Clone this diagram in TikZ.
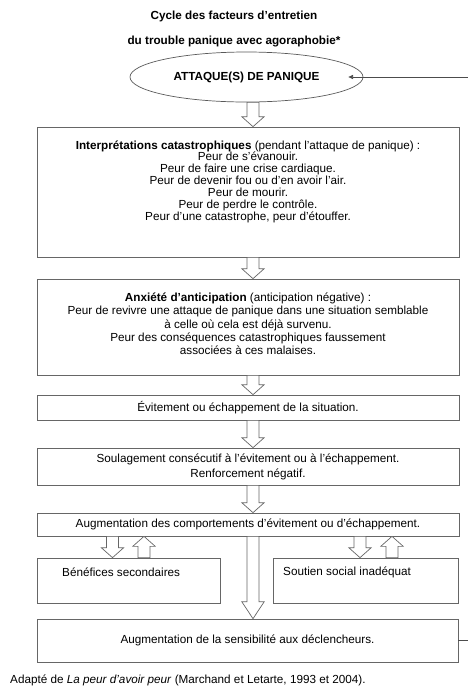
\documentclass[tikz,border=0pt]{standalone}
\usepackage{fontspec}
\setmainfont{Liberation Sans}
\usetikzlibrary{shapes.geometric,arrows.meta,calc}

% hollow block arrow from #2 to #3 (vertical), #1 = head length in px
\newcommand{\HArrow}[3][10]{%
\draw[harrow] let \p1=#2,\p2=#3,\n1={ifthenelse(\y1>\y2,1,-1)} in
 (\x1-5.1pt,\y1)--(\x1-5.1pt,\y2+\n1*#1*0.8536pt)--(\x1-9.6pt,\y2+\n1*#1*0.8536pt)
 --(\x1,\y2)--(\x1+9.6pt,\y2+\n1*#1*0.8536pt)--(\x1+5.1pt,\y2+\n1*#1*0.8536pt)
 --(\x1+5.1pt,\y1)--cycle;}

\begin{document}
\begin{tikzpicture}[x=0.03cm,y=-0.03cm,
  box/.style={draw=black!60,line width=.6pt,inner sep=0pt,minimum width=12.66cm,
    font=\fontsize{10}{11.5}\selectfont,align=center},
  txt/.style={inner sep=0pt,align=center},
  harrow/.style={draw=black!60,fill=white,line width=.6pt},
  fb/.style={draw=black!70,line width=.6pt}]
\useasboundingbox (0,0) rectangle (468,687);

% title
\node[txt,font=\fontsize{10}{12}\selectfont\bfseries] (title1) at (234,16) {Cycle des facteurs d’entretien};
\node[txt,font=\fontsize{10}{12}\selectfont\bfseries] (title2) at (234,41) {du trouble panique avec agoraphobie*};

\node[ellipse,draw=black!65,line width=.6pt,minimum width=6.99cm,minimum height=1.5cm,
  font=\fontsize{10}{12}\selectfont\bfseries] (attaque) at (246.5,77) {ATTAQUE(S) DE PANIQUE};

% boxes
\node[box,minimum height=3.9cm] (interp) at (248,192) {};
\node[txt,font=\fontsize{10}{10.1}\selectfont] (interp-t) at (248,181.5)
  {\textbf{Interprétations catastrophiques} (pendant l’attaque de panique) :\\
   Peur de s’évanouir.\\ Peur de faire une crise cardiaque.\\
   Peur de devenir fou ou d’en avoir l’air.\\ Peur de mourir.\\
   Peur de perdre le contrôle.\\ Peur d’une catastrophe, peur d’étouffer.};

\node[box,minimum height=2.88cm] (anx) at (248,327) {};
\node[txt,font=\fontsize{10}{11.4}\selectfont] (anx-t) at (248,324)
  {\textbf{Anxiété d’anticipation} (anticipation négative) :\\
   Peur de revivre une attaque de panique dans une situation semblable\\
   à celle où cela est déjà survenu.\\
   Peur des conséquences catastrophiques faussement\\ associées à ces malaises.};

\node[box,minimum height=0.75cm] (evit) at (248,407.5) {Évitement ou échappement de la situation.};
\node[box,minimum height=1.11cm,font=\fontsize{10}{12.8}\selectfont] (soulag) at (248,466.5)
  {Soulagement consécutif à l’évitement ou à l’échappement.\\ Renforcement négatif.};
\node[box,minimum height=0.69cm] (augcomp) at (248,524.5) {Augmentation des comportements d’évitement ou d’échappement.};

\node[box,minimum width=5.49cm,minimum height=1.35cm] (benef) at (128.5,580.5) {};
\node[txt,anchor=west,font=\fontsize{10}{12}\selectfont] (benef-t) at (62,572) {Bénéfices secondaires};
\node[box,minimum width=5.55cm,minimum height=1.35cm] (soutien) at (365.5,580.5) {};
\node[txt,anchor=west,font=\fontsize{10}{12}\selectfont] (soutien-t) at (283,572) {Soutien social inadéquat};

\node[box,minimum width=12.63cm,minimum height=1.29cm] (sensib) at (247.5,640.5)
  {Augmentation de la sensibilité aux déclencheurs.};

\node[txt,anchor=west,font=\fontsize{10}{12}\selectfont] (source) at (10,680)
  {Adapté de \textit{La peur d’avoir peur} (Marchand et Letarte, 1993 et 2004).};

% block arrows
\coordinate (mid) at (253,0);
\HArrow{(mid |- attaque.south)}{(mid |- interp.north)}
\HArrow{(mid |- interp.south)}{(mid |- anx.north)}
\HArrow{(mid |- anx.south)}{(mid |- evit.north)}
\HArrow{(mid |- evit.south)}{(mid |- soulag.north)}
\HArrow{(mid |- soulag.south)}{(mid |- augcomp.north)}
\HArrow[17]{(mid |- augcomp.south)}{(mid |- sensib.north)}
\HArrow{(112.5,0 |- augcomp.south)}{(112.5,0 |- benef.north)}
\HArrow{(144,0 |- benef.north)}{(144,0 |- augcomp.south)}
\HArrow{(360,0 |- augcomp.south)}{(360,0 |- soutien.north)}
\HArrow{(392,0 |- soutien.north)}{(392,0 |- augcomp.south)}

% feedback loop
\draw[fb,-{Triangle[length=4pt,width=3.5pt]}] (sensib.east) -- ++(30,0) |- ($(attaque.east)+(-15,0)$);
\end{tikzpicture}
\end{document}
